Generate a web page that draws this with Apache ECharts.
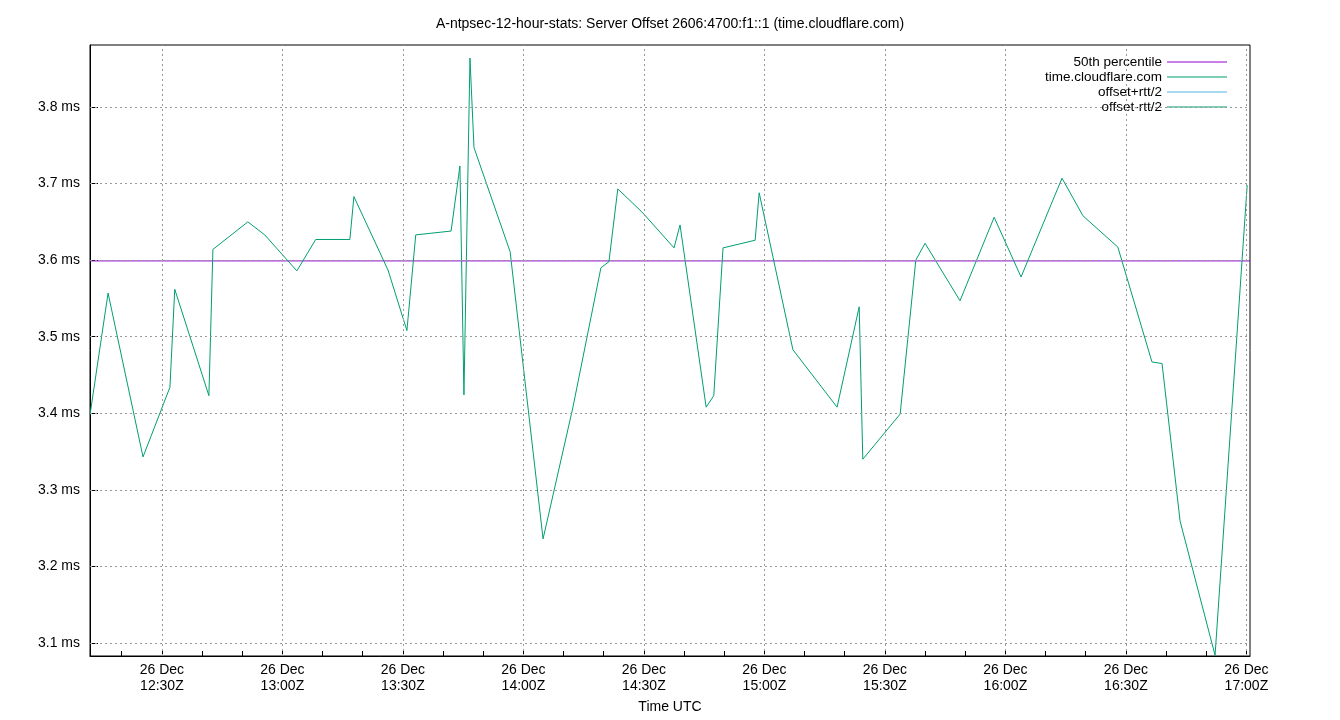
<!DOCTYPE html><html><head><meta charset="utf-8"><script src="https://cdn.jsdelivr.net/npm/echarts@6/dist/echarts.min.js"></script>
<style>body{margin:0}#c{width:1340px;height:720px}</style></head><body><div id="c"></div><script>
const minutes=[12.1,16.6,25.3,32.0,33.2,41.7,42.7,51.4,55.6,63.6,68.3,76.8,77.8,86.3,91.0,93.2,102.0,104.2,105.2,106.7,107.7,116.7,124.9,132.3,139.3,141.3,143.5,149.5,157.5,159.0,165.5,167.4,169.7,177.7,178.7,187.1,198.1,203.6,204.5,213.8,217.7,220.0,228.7,237.2,243.9,251.4,254.1,259.3,268.0,276.5,279.0,283.5,292.2,300.2];
const offsets=[3.398,3.557,3.343,3.434,3.562,3.423,3.614,3.650,3.633,3.586,3.627,3.627,3.683,3.587,3.508,3.633,3.638,3.723,3.424,3.864,3.747,3.611,3.236,3.407,3.590,3.598,3.693,3.663,3.616,3.646,3.408,3.423,3.616,3.626,3.688,3.483,3.408,3.539,3.340,3.399,3.600,3.622,3.547,3.656,3.578,3.673,3.707,3.658,3.617,3.467,3.465,3.259,3.084,3.698];
const p50=3.599;
const xTicks=[30,60,90,120,150,180,210,240,270,300];
const yTicks=[3.1,3.2,3.3,3.4,3.5,3.6,3.7,3.8];
const minorX=[];for(let m=20;m<=300;m+=10)minorX.push(m);
const XMIN=12.1,XMAX=300.9,YMIN=3.083,YMAX=3.881;
function fmt(m){const h=12+Math.floor(m/60),mm=m%60;return '26 Dec\n'+h+':'+String(mm).padStart(2,'0')+'Z';}
const grid=[...xTicks.map(v=>({xAxis:v})),...yTicks.map(v=>({yAxis:v}))];
const font='Liberation Sans';
const ch=echarts.init(document.getElementById('c'));
ch.setOption({animation:false,textStyle:{fontFamily:font},
title:{text:'A-ntpsec-12-hour-stats: Server Offset 2606:4700:f1::1 (time.cloudflare.com)',left:'center',top:12,textStyle:{fontSize:14,fontWeight:'normal',color:'#000',fontFamily:font}},
grid:{left:90,right:90,top:45,bottom:64,show:true,borderColor:'#000',borderWidth:1},
legend:{orient:'vertical',right:108,top:50,align:'right',itemGap:1,itemWidth:60,itemHeight:10,icon:'path://M0,5L60,5L60,6L0,6Z',textStyle:{fontSize:13.5,color:'#000'},
 data:['50th percentile','time.cloudflare.com','offset+rtt/2','offset-rtt/2']},
xAxis:{type:'value',min:XMIN,max:XMAX,name:'Time UTC',nameLocation:'middle',nameGap:44,nameTextStyle:{fontSize:14,color:'#000'},
 axisLine:{show:true,lineStyle:{color:'#000'}},splitLine:{show:false},
 axisTick:{inside:true,length:5,customValues:minorX,lineStyle:{color:'#000'}},
 axisLabel:{customValues:xTicks,formatter:fmt,fontSize:14,color:'#000',lineHeight:16,margin:6}},
yAxis:{type:'value',min:YMIN,max:YMAX,axisLine:{show:true,lineStyle:{color:'#000'}},splitLine:{show:false},
 axisTick:{inside:true,length:8,customValues:yTicks,lineStyle:{color:'#000'}},
 axisLabel:{customValues:yTicks,formatter:v=>v.toFixed(1)+' ms',fontSize:14,color:'#000',margin:10}},
series:[
 {name:'grid',type:'line',data:[],markLine:{silent:true,symbol:'none',label:{show:false},lineStyle:{color:'#999',type:[2,3],width:1},data:grid}},
 {name:'50th percentile',type:'line',color:'#9400d3',showSymbol:false,lineStyle:{width:1},data:[[XMIN,p50],[XMAX,p50]]},
 {name:'time.cloudflare.com',type:'line',color:'#009e73',showSymbol:false,lineStyle:{width:1},data:minutes.map((m,i)=>[m,offsets[i]])},
 {name:'offset+rtt/2',type:'line',color:'#56b4e9',showSymbol:false,lineStyle:{width:1},data:[]},
 {name:'offset-rtt/2',type:'line',color:'#009e73',showSymbol:false,lineStyle:{width:1},data:[]}
]});
</script></body></html>
